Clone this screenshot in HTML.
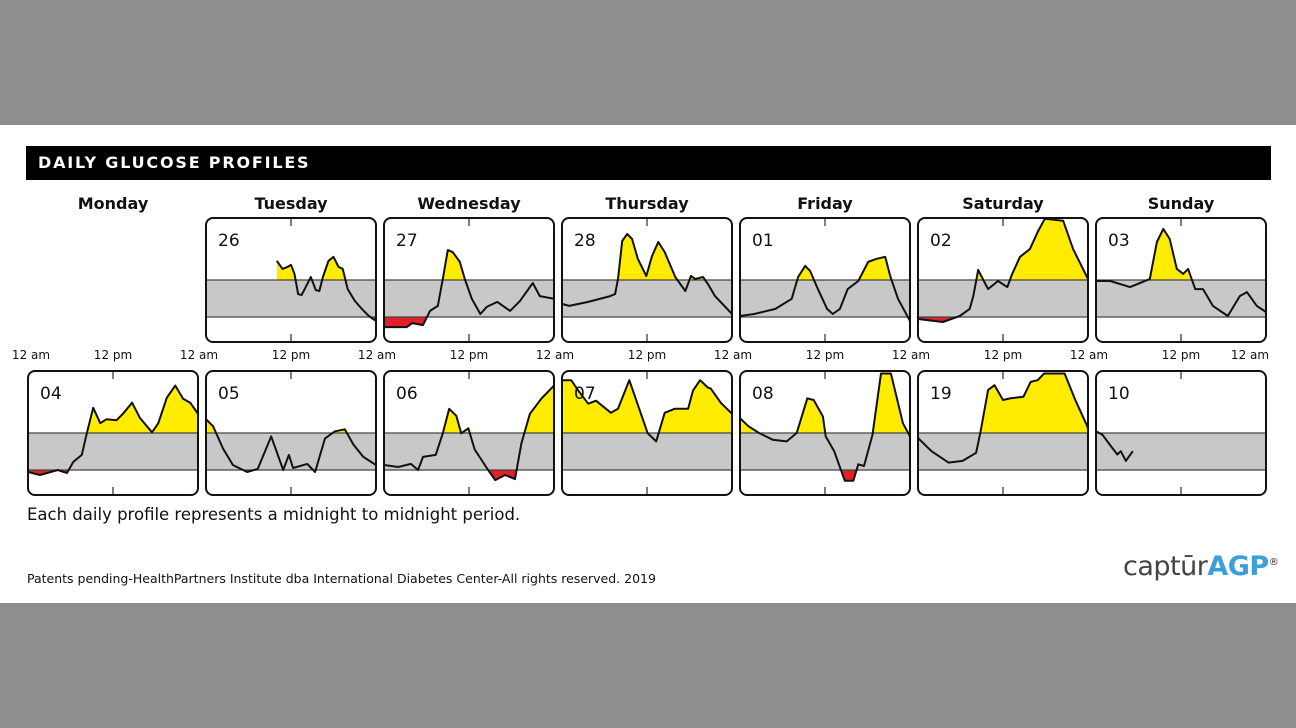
<!DOCTYPE html>
<html><head><meta charset="utf-8"><style>
html,body{margin:0;padding:0;width:1296px;height:728px;overflow:hidden;background:#8f8d8e;font-family:"Liberation Sans",sans-serif}
#sheet{position:absolute;left:0;top:125px;width:1296px;height:478px;background:#fff}
#hdr{position:absolute;left:26px;top:146px;width:1245px;height:34px;background:#000;color:#fff;font:bold 16px "DejaVu Sans",sans-serif;letter-spacing:1.8px;line-height:34px;text-indent:12px}
.day{position:absolute;top:194px;width:170px;text-align:center;font:bold 16px "DejaVu Sans",sans-serif;color:#111}
.ax{position:absolute;top:348px;font:12px "DejaVu Sans",sans-serif;color:#111;transform:translateX(-50%);white-space:nowrap}
#note{position:absolute;left:27px;top:505px;font:16.5px "DejaVu Sans",sans-serif;color:#111}
#pat{position:absolute;left:27px;top:571px;font:12.5px "DejaVu Sans",sans-serif;color:#111}
#logo{position:absolute;left:1123px;top:551px;font:27px "DejaVu Sans",sans-serif;color:#444;letter-spacing:-0.5px}
#logo b{color:#3a9fdc;font-weight:bold}
#logo sup{font-size:10px;color:#333}
svg{position:absolute;left:0;top:0}
</style></head><body>
<div id="sheet"></div>
<div id="hdr">DAILY GLUCOSE PROFILES</div>
<div class="day" style="left:28px">Monday</div>
<div class="day" style="left:206px">Tuesday</div>
<div class="day" style="left:384px">Wednesday</div>
<div class="day" style="left:562px">Thursday</div>
<div class="day" style="left:740px">Friday</div>
<div class="day" style="left:918px">Saturday</div>
<div class="day" style="left:1096px">Sunday</div>
<div id="axes"></div>
<svg id="chart" width="1296" height="728"></svg>
<div id="note">Each daily profile represents a midnight to midnight period.</div>
<div id="pat">Patents pending-HealthPartners Institute dba International Diabetes Center-All rights reserved. 2019</div>
<div id="logo">captūr<b>AGP</b><sup>®</sup></div>
<script>
// Data: hours (0-24) and glucose values (mg/dL) per day
const dayLabels = ["26","27","28","01","02","03","04","05","06","07","08","19","10"];
const h26 = [10,10.8,11.5,12,12.5,13,13.5,14.3,14.8,15.5,16,16.5,17.3,18,18.7,19.3,20,21,22,23,24];
const v26 = [237,213,219,225,198,138,135,168,189,150,147,189,237,249,219,213,153,118,94,73,58];
const h27 = [0,3.2,4,5.5,6.5,7.6,8.3,9,9.7,10.7,11.4,12.4,13.6,14.5,16,17.8,19.2,21,22,24];
const v27 = [40,40,52,46,88,103,183,269,263,234,183,124,79,100,115,88,118,171,132,124];
const h28 = [0,1,3.7,6.8,7.5,7.9,8.5,9.2,9.9,10.7,11.9,12.7,13.6,14.5,16,17.4,18.2,18.8,19.9,20.6,21.6,24];
const v28 = [109,103,115,132,138,183,296,317,302,243,192,251,293,263,189,147,192,183,189,168,132,79];
const h01 = [0,2,5,7.3,8.2,9.2,9.9,11,12.3,13.1,14.1,15.2,16.7,18.1,19.3,20.5,21.2,22.3,24];
const v01 = [73,79,94,124,189,222,207,153,94,79,94,153,177,234,243,249,192,124,58];
const h02 = [0,3.5,5.9,7.3,7.8,8.5,9,9.9,11.3,12.6,13.3,14.4,15.8,16.9,17.9,20.5,21.9,24];
const v02 = [64,55,73,94,132,210,189,153,177,159,198,249,272,323,362,356,272,183];
const h03 = [0,2,4.8,7.6,8.6,9.5,10.4,11.4,12.3,13,14,15.1,16.5,18.6,20.3,21.3,22.7,24];
const v03 = [177,177,159,183,293,332,302,213,198,213,153,153,103,73,132,144,103,85];
const h04 = [0,1.7,4.2,5.5,6.4,7.6,8.3,9.2,10.2,11.1,12.5,13.4,14.7,15.8,17.5,18.4,19.6,20.8,21.9,22.9,24];
const v04 = [64,55,70,61,94,115,179,255,209,221,218,237,270,225,182,209,285,321,282,270,237];
const h05 = [0,1,2.4,3.8,5.8,7.3,9.2,10.9,11.7,12.3,14.3,15.4,16.8,18.2,19.6,20.8,22.2,24];
const v05 = [221,200,134,85,64,73,170,70,115,76,88,64,164,185,191,146,109,85];
const h06 = [0,2,3.8,4.8,5.5,7.3,8.3,9.2,10.2,10.9,11.9,12.8,14.7,15.7,17.1,18.5,19.4,20.6,22.2,24];
const v06 = [85,79,88,70,109,115,179,252,231,179,194,131,70,40,55,43,149,237,282,321];
const h07 = [0,1.3,2.3,3.7,4.8,6.9,7.9,9.5,10.4,12.1,13.3,14.5,15.9,17.8,18.5,19.5,20.6,21,22.4,24];
const v07 = [337,337,306,267,276,240,252,337,282,179,155,240,252,252,306,337,315,312,270,237];
const h08 = [0,1.2,2.7,4.6,6.6,8,9.5,10.4,11.7,12.1,13.3,14.8,16,16.7,17.5,18.7,19.9,21.3,23,24];
const v08 = [224,200,180,160,155,180,283,278,229,170,126,38,38,87,82,175,357,357,209,170];
const h19 = [0,1.9,4.3,6.3,8.2,8.8,9.9,10.8,12,13,14.9,15.9,16.9,17.8,20.7,22.2,23.9,24];
const v19 = [165,126,92,97,121,180,308,322,278,283,288,332,337,357,357,278,200,190];
const h10 = [0,0.9,2.1,3,3.5,4.2,5.2];
const v10 = [185,175,141,116,126,97,126];
const tickLabels = ["12 am","12 pm","12 am"];

const hours = [h26,h27,h28,h01,h02,h03,h04,h05,h06,h07,h08,h19,h10];
const vals  = [v26,v27,v28,v01,v02,v03,v04,v05,v06,v07,v08,v19,v10];

const NS = "http://www.w3.org/2000/svg";
const svg = document.getElementById("chart");
const PW = 170, PH = 124;
function px(col){ return 28 + col*178; }
function rowY(r){ return r===0 ? 218 : 371; }
function xs(h){ return h/24*PW; }
function ys(v){ return 99 - (v-70)*37/110; }
function mk(tag, attrs, parent){
  const e = document.createElementNS(NS, tag);
  for (const k in attrs) e.setAttribute(k, attrs[k]);
  parent.appendChild(e);
  return e;
}
const defs = mk("defs", {}, svg);
for (let i=0;i<dayLabels.length;i++){
  const slot = i + 1;
  const r = slot < 7 ? 0 : 1, c = slot % 7;
  const X = px(c), Y = rowY(r);
  const g = mk("g", {transform:`translate(${X},${Y})`}, svg);
  
  
  const cpA = mk("clipPath", {id:"ca"+i}, defs); mk("rect",{x:0,y:0,width:PW,height:ys(180)},cpA);
  const cpB = mk("clipPath", {id:"cb"+i}, defs); mk("rect",{x:0,y:ys(70),width:PW,height:PH-ys(70)},cpB);
  const cpP = mk("clipPath", {id:"cp"+i}, defs); mk("rect",{x:0,y:0,width:PW,height:PH,rx:7},cpP);
  mk("rect",{x:0,y:0,width:PW,height:PH,fill:"#fff",rx:7},g);
  const band = mk("rect",{x:0,y:ys(180),width:PW,height:ys(70)-ys(180),fill:"#c8c8c8"},g);
  
  
  const H = hours[i], V = vals[i];
  const pts = H.map((h,k)=>[xs(h), ys(V[k])]);
  const line = pts.map(p=>p[0].toFixed(1)+","+p[1].toFixed(1)).join(" ");
  const x0 = pts[0][0], x1 = pts[pts.length-1][0];
  const inner = mk("g",{"clip-path":`url(#cp${i})`},g);
  const hi = mk("polygon",{points:line+` ${x1},${ys(180)} ${x0},${ys(180)}`,fill:"#ffec00","clip-path":`url(#ca${i})`},inner);
  
  
  const lo = mk("polygon",{points:line+` ${x1},${ys(70)} ${x0},${ys(70)}`,fill:"#e0202a","clip-path":`url(#cb${i})`},inner);
  
  
  mk("line",{x1:0,x2:PW,y1:ys(180),y2:ys(180),stroke:"#444","stroke-width":1.2},inner);
  mk("line",{x1:0,x2:PW,y1:ys(70),y2:ys(70),stroke:"#444","stroke-width":1.2},inner);
  const pl = mk("polyline",{points:line,fill:"none",stroke:"#111","stroke-width":2,"stroke-linejoin":"round"},inner);
  
  
  mk("line",{x1:PW/2,x2:PW/2,y1:0,y2:8,stroke:"#555","stroke-width":1.5},g);
  mk("line",{x1:PW/2,x2:PW/2,y1:PH-8,y2:PH,stroke:"#555","stroke-width":1.5},g);
  mk("rect",{x:0,y:0,width:PW,height:PH,fill:"none",stroke:"#111","stroke-width":2,rx:7},g);
  const t = mk("text",{x:12,y:28,"font-family":"DejaVu Sans, sans-serif","font-size":17,fill:"#111"},g);
  t.textContent = dayLabels[i];
  
  
}
const axes = document.getElementById("axes");
const amX = [31,199,377,555,733,911,1089,1250];
for (let c=0;c<8;c++){
  const d = document.createElement("div");
  d.className = "ax"; d.style.left = amX[c]+"px"; d.textContent = tickLabels[0];
  
  
  axes.appendChild(d);
  if (c<7){
    const e = document.createElement("div");
    e.className = "ax"; e.style.left = (px(c)+85)+"px"; e.textContent = tickLabels[1];
    
    
    axes.appendChild(e);
  }
}
</script>
</body></html>
